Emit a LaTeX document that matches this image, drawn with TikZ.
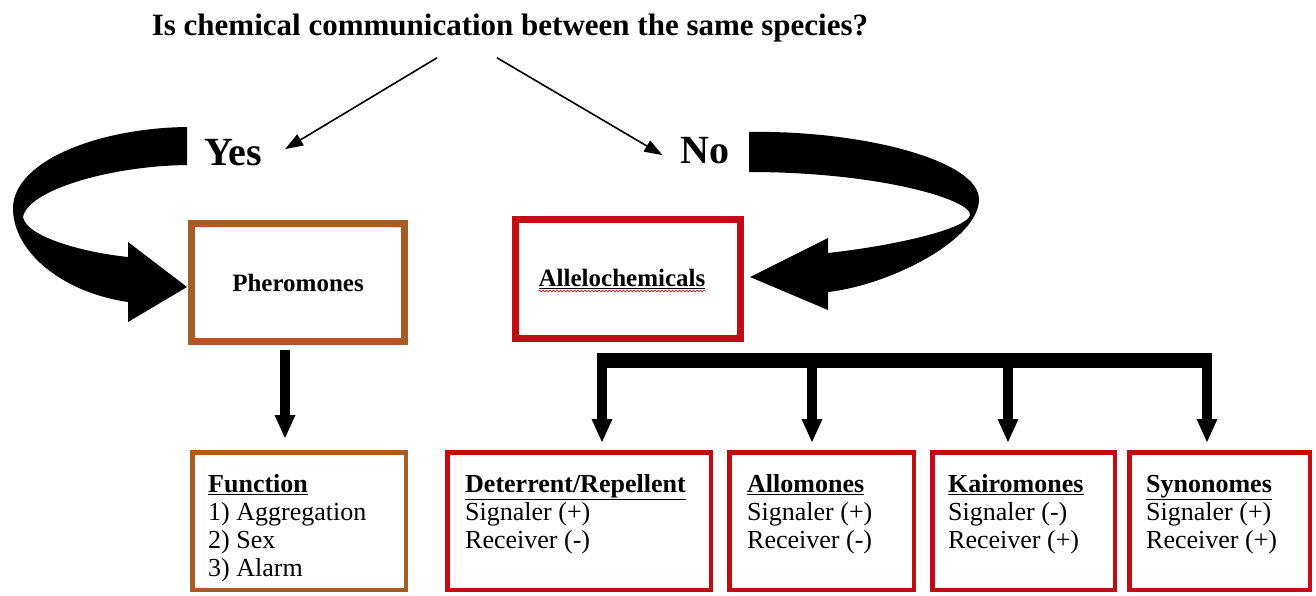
\documentclass[tikz,border=0pt]{standalone}
\usepackage{fontspec}
\setmainfont{Liberation Serif}
\usepackage{tikz}
\usetikzlibrary{arrows.meta,decorations.pathmorphing}
\definecolor{pherobrown}{RGB}{166, 92, 34}
\definecolor{allered}{RGB}{192, 12, 18}
\newcommand{\firstline}{\rule{0pt}{18pt}}

\begin{document}
\begin{tikzpicture}[x=1pt,y=-1pt,
  bigbox/.style={draw,line width=7pt,inner sep=0pt},
  smallbox/.style={draw,line width=4.5pt,minimum height=137.5pt,inner sep=0pt},
  boxtext/.style={anchor=north west,align=left,inner sep=0pt,font=\fontsize{26}{28}\selectfont},
  fatarrow/.style={line width=10pt,-{Triangle[width=21pt,length=23pt,line width=0pt]}},
  thinarrow/.style={line width=1.6pt,-{Triangle[width=13pt,length=18pt,line width=0pt]}}]
\useasboundingbox (0,0) rectangle (1316,595);

% question and answers
\node[anchor=base,inner sep=2pt,font=\fontsize{31}{36}\selectfont\bfseries] (title) at (510,35) {Is chemical communication between the same species?};
\node[anchor=base,inner sep=2pt,font=\fontsize{40}{44}\selectfont\bfseries] (yes) at (233,165) {Yes};
\node[anchor=base,inner sep=2pt,font=\fontsize{40}{44}\selectfont\bfseries] (no) at (705,163) {No};
\draw[thinarrow] ([xshift=-73pt,yshift=-14pt]title.south) -- ([xshift=21pt,yshift=3pt]yes.east);
\draw[thinarrow] ([xshift=-13pt,yshift=-14pt]title.south) -- ([xshift=-16pt,yshift=-5pt]no.west);

% first level
\node[bigbox,draw=pherobrown,minimum width=213pt,minimum height=118pt,font=\fontsize{25}{28}\selectfont\bfseries] (pher) at (298,282.5) {Pheromones};
\node[bigbox,draw=allered,minimum width=225pt,minimum height=119pt] (alle) at (628,279) {};
\node[inner sep=0pt,font=\fontsize{25}{28}\selectfont\bfseries] (alletxt) at (622,279) {\underline{Allelochemicals}};
\draw[allered,line width=0.7pt,decorate,decoration={snake,amplitude=0.8pt,segment length=3.5pt}] ([yshift=-2pt]alletxt.south west) -- ([yshift=-2pt]alletxt.south east);

% curved arrows
\fill (187,127) .. controls (100,128) and (15,160) .. (13,207) .. controls (12,250) and (60,292) .. (128,302) -- (128,322) -- (187,287) -- (128,242) -- (128,257) .. controls (80,252) and (26,236) .. (23,217) .. controls (28,190) and (110,166) .. (187,165) -- cycle;
\fill (749,132) .. controls (860,130) and (980,160) .. (979,200) .. controls (978,240) and (890,285) .. (828,292) -- (828,310) -- (750,277) -- (828,238) -- (828,253) .. controls (900,245) and (968,228) .. (970,215) .. controls (972,200) and (880,172) .. (749,172) -- cycle;

% second level
\node[smallbox,draw=pherobrown,minimum width=213.5pt] (func) at (299,521) {};
\node[smallbox,draw=allered,minimum width=263.5pt] (det) at (579,521) {};
\node[smallbox,draw=allered,minimum width=184.5pt] (allo) at (821.5,521) {};
\node[smallbox,draw=allered,minimum width=182.5pt] (kairo) at (1023.5,521) {};
\node[smallbox,draw=allered,minimum width=180.5pt] (syno) at (1219.5,521) {};

\node[boxtext] (functxt) at ([shift={(18,24)}]func.north west) {\firstline\underline{\textbf{Function}}\\1) Aggregation\\2) Sex\\3) Alarm};
\node[boxtext] (dettxt) at ([shift={(20,24)}]det.north west) {\firstline\underline{\textbf{Deterrent/Repellent}}\\Signaler (+)\\Receiver (-)};
\node[boxtext] (allotxt) at ([shift={(20,24)}]allo.north west) {\firstline\underline{\textbf{Allomones}}\\Signaler (+)\\Receiver (-)};
\node[boxtext] (kairotxt) at ([shift={(18,24)}]kairo.north west) {\firstline\underline{\textbf{Kairomones}}\\Signaler (-)\\Receiver (+)};
\node[boxtext] (synotxt) at ([shift={(19,24)}]syno.north west) {\firstline\underline{\textbf{Synonomes}}\\Signaler (+)\\Receiver (+)};

% connectors
\draw[fatarrow,shorten <=5pt,shorten >=12pt] ([xshift=-13pt]pher.south) -- ([xshift=-13pt]pher.south |- func.north);
\coordinate (b1) at (602,360.5);
\coordinate (b2) at (812,360.5);
\coordinate (b3) at (1008,360.5);
\coordinate (b4) at (1207,360.5);
\draw[line width=15pt] ([xshift=-5pt]b1) -- ([xshift=5pt]b4);
\draw[fatarrow,shorten >=8pt] (b1) -- (b1 |- det.north);
\draw[fatarrow,shorten >=8pt] (b2) -- (b2 |- allo.north);
\draw[fatarrow,shorten >=8pt] (b3) -- (b3 |- kairo.north);
\draw[fatarrow,shorten >=8pt] (b4) -- (b4 |- syno.north);
\end{tikzpicture}
\end{document}
